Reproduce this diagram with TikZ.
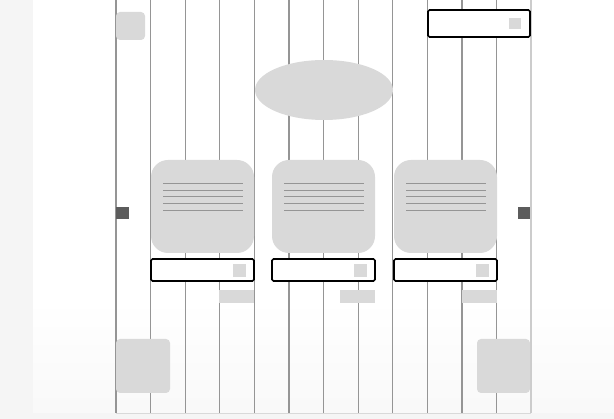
\documentclass[tikz,border=0pt]{standalone}
\usepackage{tikz}
\usetikzlibrary{calc}

\definecolor{wire}{HTML}{959595}
\definecolor{blockgray}{HTML}{D9D9D9}
\definecolor{knob}{HTML}{5C5C5C}

\begin{document}
\begin{tikzpicture}[x=1pt,y=-1pt,
        column/.style={draw=wire,line width=1.1pt},
        card/.style={fill=blockgray,rounded corners=17pt},
        field/.style={draw=black,line width=1.7pt,fill=white,rounded corners=1.5pt},
        chip/.style={fill=blockgray},
        tile/.style={fill=blockgray,rounded corners=4pt},
        textline/.style={draw=wire,line width=0.9pt}]
        \useasboundingbox (0,0) rectangle (614,419);
        % page background
        \fill [gray!8] (0,0) rectangle (614,419);
        \fill [white] (33,0) rectangle (614,413);
        \shade [top color=white,bottom color=gray!5] (33,300) rectangle (614,413);
        % grid columns
        \foreach \i in {0,...,11}
            \draw [column] (116+34.6*\i,0) -- ++(0,413);
        \draw [column,draw=gray!40] (531,0) -- ++(0,413);
        \draw [gray!30] (116,413) -- (531,413);
        % header
        \fill [tile] (116,12) rectangle (145,40);
        \draw [field] (428,10) rectangle (530,37);
        \fill [chip] (509,18) rectangle (521,29);
        \fill [blockgray] (324,90) ellipse (69pt and 30pt);
        % side handles
        \fill [knob] (116,207) rectangle (129,219);
        \fill [knob] (518,207) rectangle (530,219);
        % three cards with fields
        \foreach \x in {151,272,394} {
            \fill [card] (\x,160) rectangle ++(103,93);
            \foreach \y in {183,190,196,203,210}
                \draw [textline] (\x+12,\y) -- ++(80,0);
            \draw [field] (\x,259) rectangle ++(103,22);
            \fill [chip] (\x+82,264) rectangle ++(13,13);
            \fill [chip] (\x+68,290) rectangle ++(35,13);
        }
        % footer tiles
        \fill [tile] (116,339) rectangle (170,393);
        \fill [tile] (477,339) rectangle (530,393);
\end{tikzpicture}
\end{document}
